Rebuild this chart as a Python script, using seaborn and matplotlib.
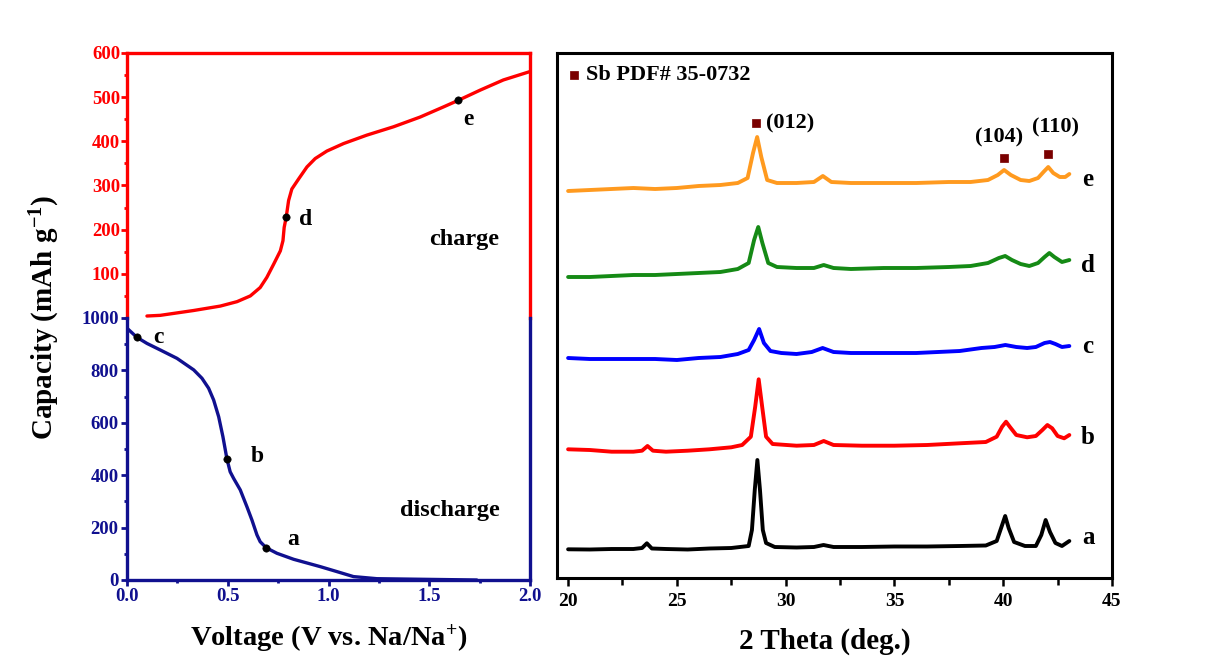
import numpy as np
import matplotlib
matplotlib.use('Agg')
import matplotlib.pyplot as plt
from matplotlib.ticker import MultipleLocator, FixedLocator, FormatStrFormatter
import seaborn as sns

sns.set_style('ticks')
plt.rcParams['font.family'] = ['Liberation Serif', 'DejaVu Serif']
plt.rcParams['font.weight'] = 'bold'
plt.rcParams['text.color'] = 'black'
plt.rcParams['axes.labelcolor'] = 'black'
plt.rcParams['axes.labelweight'] = 'bold'
plt.rcParams['mathtext.fontset'] = 'custom'
plt.rcParams['mathtext.rm'] = 'Liberation Serif:bold'
plt.rcParams['mathtext.it'] = 'Liberation Serif:bold'
plt.rcParams['mathtext.bf'] = 'Liberation Serif:bold'
plt.rcParams['mathtext.default'] = 'bf'

# ---------------- data: charge / discharge profiles ----------------
charge_v = [0.099, 0.165, 0.331, 0.463, 0.546, 0.612, 0.661, 0.694, 0.728, 0.761,
            0.774, 0.780, 0.790, 0.802, 0.818, 0.852, 0.893, 0.934, 0.992, 1.075,
            1.190, 1.323, 1.455, 1.571, 1.645, 1.753, 1.868, 2.0]
charge_cap = [4.5, 6, 17, 27, 37, 50, 69, 92, 122, 152,
              175, 205, 228, 266, 292, 315, 342, 361, 378, 395,
              414, 433, 455, 478, 493, 516, 539, 558]

discharge_v = [0.0, 0.0496, 0.099, 0.165, 0.248, 0.331, 0.372, 0.405, 0.430, 0.455,
               0.476, 0.496, 0.512, 0.529, 0.562, 0.595, 0.620, 0.645, 0.661, 0.691,
               0.744, 0.827, 0.959, 1.042, 1.124, 1.240, 1.488, 1.736]
discharge_cap = [961, 926, 903, 878, 846, 802, 770, 732, 687, 623,
                 547, 462, 413, 388, 344, 280, 229, 172, 146, 123,
                 102, 79, 51, 32, 13, 5, 2.5, 0]

# state points where XRD was taken
charge_pts_v = [0.790, 1.645]
charge_pts_cap = [228, 493]
charge_pts_lab = ['d', 'e']
discharge_pts_v = [0.0496, 0.496, 0.691]
discharge_pts_cap = [926, 462, 123]
discharge_pts_lab = ['c', 'b', 'a']

# ---------------- data: XRD patterns (a.u., relative to own baseline) ----------------
tt_a = [20, 21, 22, 23, 23.4, 23.62, 23.85, 24.5, 25.5, 26.5, 27.5, 28.3, 28.45, 28.58, 28.7,
        28.82, 28.95, 29.1, 29.5, 30.5, 31.3, 31.74, 32.2, 33.5, 35, 36.5, 38, 39.2, 39.7,
        39.95, 40.09, 40.25, 40.5, 41, 41.5, 41.75, 41.95, 42.15, 42.4, 42.7, 43.04]
int_a = [-0.3, -0.5, 0, 0, 1, 5.7, 0.5, 0, -0.5, 0.5, 1, 3, 19, 59, 89,
         59, 19, 6, 2, 1.5, 2, 4, 2, 2, 2.5, 2.5, 3, 3.5, 8,
         24, 33, 21, 7, 3, 3, 14, 29, 17, 6, 3, 8]

tt_b = [20, 21, 22, 23, 23.4, 23.65, 23.9, 24.5, 25.5, 26.5, 27.5, 28.0, 28.4, 28.6, 28.76,
        28.92, 29.1, 29.4, 30.5, 31.3, 31.75, 32.2, 33.5, 35, 36.5, 38, 39.2, 39.7, 39.95,
        40.13, 40.3, 40.6, 41.1, 41.5, 41.8, 42.03, 42.25, 42.5, 42.8, 43.04]
int_b = [-0.3, -1, -2.7, -2.7, -1.7, 3, -1.7, -2.7, -1.7, -0.3, 1.7, 4, 12.3, 42.3, 69.7,
         42.3, 12.3, 5, 3.3, 4, 8, 4, 3.3, 3.3, 4, 5.7, 7, 12.3, 22.3,
         27.3, 22.3, 14, 11.7, 13, 19, 24, 20.7, 13, 10.7, 14]

tt_c = [20, 21, 22, 23, 24, 25, 26, 27, 27.8, 28.3, 28.55, 28.78, 29.0, 29.3, 29.8, 30.5,
        31.2, 31.7, 32.2, 33, 34, 35, 36, 37, 38, 39, 39.6, 40.1, 40.6, 41.1, 41.5, 41.9,
        42.15, 42.4, 42.7, 43.04]
int_c = [0, -1, -1, -1, -1, -2, 0, 1, 4, 8, 18, 29, 15, 7, 5, 4,
         6, 10, 6, 5, 5, 5, 5, 6, 7, 10, 11, 13, 11, 10, 11, 15,
         16, 14, 11, 12]

tt_d = [20, 21, 22, 23, 24, 25, 26, 27, 27.8, 28.3, 28.55, 28.74, 28.93, 29.2, 29.6, 30.5,
        31.3, 31.75, 32.2, 33, 34.5, 36, 37.5, 38.5, 39.3, 39.8, 40.09, 40.4, 40.8, 41.2,
        41.6, 41.9, 42.12, 42.35, 42.7, 43.04]
int_d = [0, 0, 1, 2, 2, 3, 4, 5, 8, 14, 37, 50, 34, 14, 10, 9,
         9, 12, 9, 8, 9, 9, 10, 11, 14, 19, 21, 17, 13, 11,
         14, 20, 24, 20, 15, 17]

tt_e = [20, 21, 22, 23, 24, 25, 26, 27, 27.8, 28.25, 28.5, 28.69, 28.88, 29.15, 29.6, 30.5,
        31.3, 31.71, 32.1, 33, 34.5, 36, 37.5, 38.5, 39.3, 39.75, 40.04, 40.35, 40.8, 41.2,
        41.6, 41.85, 42.07, 42.3, 42.6, 42.85, 43.04]
int_e = [0, 1, 2, 3, 2, 3, 5, 6, 8, 13, 38, 54, 34, 11, 8, 8,
         9, 15, 9, 8, 8, 8, 9, 9, 11, 16, 21, 16, 11, 10,
         13, 19, 24, 18, 14, 14, 17]

xrd_labels = ['a', 'b', 'c', 'd', 'e']
xrd_offsets = [29, 129, 220, 301, 387]
xrd_colors = ['#000000', '#ff0000', '#0000ff', '#158a15', '#ff9a1f']

sb_peaks_tt = [28.65, 40.04, 42.07]
sb_peaks_y = [455, 420, 424]
sb_hkl = ['(012)', '(104)', '(110)']

# ---------------- figure ----------------
RED = '#ff0000'
NAVY = '#10108f'
MAROON = '#7a0000'

fig = plt.figure(figsize=(12.08, 6.64), dpi=100)
W, H = 1208, 664

def ax_rect(l, t, r, b):
    return [l / W, 1 - b / H, (r - l) / W, (b - t) / H]

ax_c = fig.add_axes(ax_rect(127, 53, 530, 318))
ax_d = fig.add_axes(ax_rect(127, 318, 530, 580))
ax_x = fig.add_axes(ax_rect(557, 53, 1112, 578))

for ax in (ax_c, ax_d, ax_x):
    ax.set_facecolor('none')

# charge (top)
sns.lineplot(x=charge_v, y=charge_cap, ax=ax_c, color=RED, linewidth=2.4,
             sort=False, estimator=None)
sns.scatterplot(x=charge_pts_v, y=charge_pts_cap, ax=ax_c, color='black', s=28,
                edgecolor='black', zorder=5)
ax_c.set_xlim(0, 2.0)
ax_c.set_ylim(0, 600)
ax_c.yaxis.set_major_locator(FixedLocator([100, 200, 300, 400, 500, 600]))
ax_c.yaxis.set_minor_locator(MultipleLocator(50))
ax_c.set_xticks([])
ax_c.spines['bottom'].set_visible(False)
for s in ('left', 'right', 'top'):
    ax_c.spines[s].set_color(RED)
    ax_c.spines[s].set_linewidth(2.4)
ax_c.tick_params(axis='y', which='major', colors=RED, length=4, width=2, labelsize=13.5, pad=1)
ax_c.tick_params(axis='y', which='minor', colors=RED, length=2.5, width=2)
ax_c.set_xlabel('')
ax_c.set_ylabel('')

label_off_c = {'d': (0.097, -4), 'e': (0.049, -44)}
for v, c, l in zip(charge_pts_v, charge_pts_cap, charge_pts_lab):
    dx, dy = label_off_c[l]
    ax_c.text(v + dx, c + dy, l, fontsize=17, fontweight='bold', ha='center', va='center')
ax_c.text(1.672, 177, 'charge', fontsize=17.5, fontweight='bold', ha='center', va='center')

# discharge (bottom)
sns.lineplot(x=discharge_v, y=discharge_cap, ax=ax_d, color=NAVY, linewidth=2.4,
             sort=False, estimator=None)
sns.scatterplot(x=discharge_pts_v, y=discharge_pts_cap, ax=ax_d, color='black', s=28,
                edgecolor='black', zorder=5)
ax_d.set_xlim(0, 2.0)
ax_d.set_ylim(0, 1000)
ax_d.yaxis.set_major_locator(MultipleLocator(200))
ax_d.yaxis.set_minor_locator(MultipleLocator(100))
ax_d.xaxis.set_major_locator(MultipleLocator(0.5))
ax_d.xaxis.set_minor_locator(MultipleLocator(0.25))
ax_d.xaxis.set_major_formatter(FormatStrFormatter('%.1f'))
ax_d.spines['top'].set_visible(False)
for s in ('left', 'right', 'bottom'):
    ax_d.spines[s].set_color(NAVY)
    ax_d.spines[s].set_linewidth(2.4)
ax_d.tick_params(axis='both', which='major', colors=NAVY, length=4, width=2, labelsize=13.5, pad=2)
ax_d.tick_params(axis='both', which='minor', colors=NAVY, length=2.5, width=2)
ax_d.set_xlabel('')
ax_d.set_ylabel('')

label_off_d = {'c': (0.107, 0), 'b': (0.149, 9), 'a': (0.135, 32)}
for v, c, l in zip(discharge_pts_v, discharge_pts_cap, discharge_pts_lab):
    dx, dy = label_off_d[l]
    ax_d.text(v + dx, c + dy, l, fontsize=17, fontweight='bold', ha='center', va='center')
ax_d.text(1.603, 267, 'discharge', fontsize=17.5, fontweight='bold', ha='center', va='center')

fig.text(45 / W, 1 - 317 / H, 'Capacity (mAh g$^{-1}$)', rotation=90, fontsize=21,
         fontweight='bold', ha='center', va='center')
fig.text(329 / W, 1 - 638 / H, 'Voltage (V vs. Na/Na$^{+}$)', fontsize=20.5,
         fontweight='bold', ha='center', va='center')

# XRD (right)
xrd_tt = [tt_a, tt_b, tt_c, tt_d, tt_e]
xrd_int = [int_a, int_b, int_c, int_d, int_e]
for tt, it, off, col, lab in zip(xrd_tt, xrd_int, xrd_offsets, xrd_colors, xrd_labels):
    y = np.asarray(it, dtype=float) + off
    sns.lineplot(x=tt, y=y, ax=ax_x, color=col, linewidth=2.8, sort=False, estimator=None)
    ax_x.text(43.9, off + 12, lab, fontsize=18, fontweight='bold', ha='center', va='center')

ax_x.set_xlim(19.49, 45.0)
ax_x.set_ylim(0, 525)
ax_x.set_yticks([])
ax_x.xaxis.set_major_locator(MultipleLocator(5))
ax_x.xaxis.set_minor_locator(MultipleLocator(2.5))
for s in ax_x.spines.values():
    s.set_color('black')
    s.set_linewidth(2.2)
ax_x.tick_params(axis='x', which='major', colors='black', length=6, width=1.8, labelsize=14, pad=5)
ax_x.tick_params(axis='x', which='minor', colors='black', length=5, width=1.8)
ax_x.set_xlabel('')
ax_x.set_ylabel('')

sns.scatterplot(x=sb_peaks_tt, y=sb_peaks_y, ax=ax_x, marker='s', color=MAROON, s=40,
                edgecolor=MAROON, zorder=5)
ax_x.text(29.1, 455, sb_hkl[0], fontsize=16, fontweight='bold', ha='left', va='center')
ax_x.text(39.83, 441, sb_hkl[1], fontsize=16, fontweight='bold', ha='center', va='center')
ax_x.text(42.42, 451, sb_hkl[2], fontsize=16, fontweight='bold', ha='center', va='center')

sns.scatterplot(x=[20.26], y=[503], ax=ax_x, marker='s', color=MAROON, s=40,
                edgecolor=MAROON, zorder=5)
ax_x.text(20.8, 503, 'Sb PDF# 35-0732', fontsize=16, fontweight='bold', ha='left', va='center')

fig.text(825 / W, 1 - 641 / H, '2 Theta (deg.)', fontsize=21, fontweight='bold',
         ha='center', va='center')

fig.savefig('out.png', dpi=100, facecolor='white')
